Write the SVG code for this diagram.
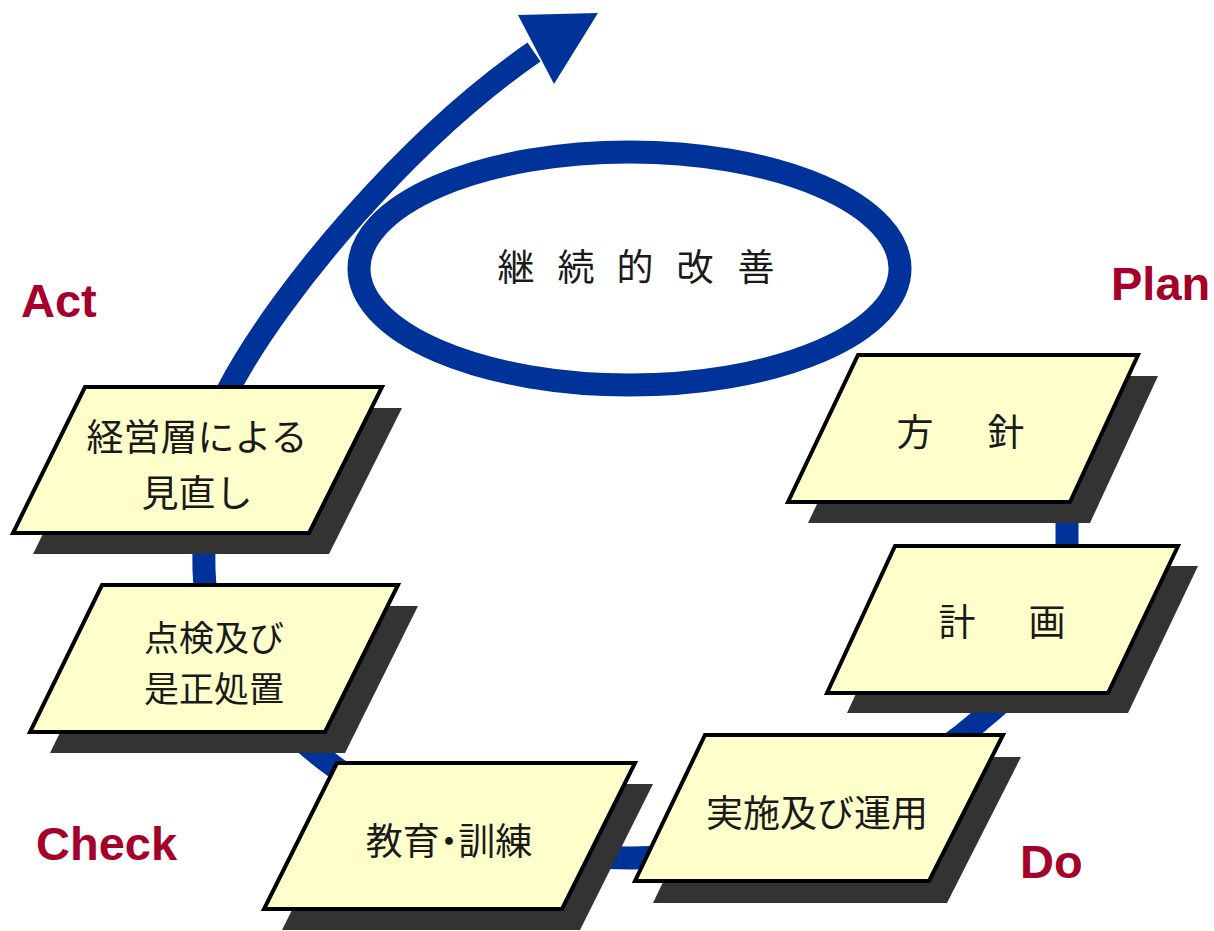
<svg xmlns="http://www.w3.org/2000/svg" width="1214" height="931" viewBox="0 0 1214 931">
<style>
.flow{fill:none;stroke:#003399;stroke-width:23;stroke-linecap:butt;stroke-linejoin:round}
.shadow{fill:#333333}
.box{fill:#FFFFCC;stroke:#000000;stroke-width:4;stroke-linejoin:miter}
.jp{font-family:"Noto Sans CJK JP","Noto Sans CJK SC",sans-serif;font-size:37px;fill:#1a1a1a;text-anchor:middle}
.palt{font-feature-settings:"palt"}
.pdca{font-family:"Liberation Sans",Arial,sans-serif;font-size:47px;font-weight:bold;fill:#A5002A}
</style>
<rect x="0" y="0" width="1214" height="931" fill="#ffffff"/>
<g id="connectors">
<path class="flow" d="M1067,470 L1067,600 C1067,650 1010,695 978,722 C900,790 750,858 632,858 C500,858 390,810 328,762 C260,710 205,640 204,570 C203,490 205,440 227,392 C280,290 411,137 534,52"/>
<polygon points="518,15 598,13 554,84" fill="#003399"/>
</g>
<g id="improvement">
<ellipse cx="629.5" cy="268.5" rx="270.5" ry="116.5" class="flow"/>
<text class="jp" y="281"><tspan x="516">継</tspan><tspan x="576">続</tspan><tspan x="635">的</tspan><tspan x="695">改</tspan><tspan x="756">善</tspan></text>
</g>
<g id="node-houshin">
<polygon class="shadow" points="878,376 1158,376 1090,523 808,523"/>
<polygon class="box" points="858,355 1138,355 1070,502 788,502"/>
<text class="jp" y="446"><tspan x="915">方</tspan><tspan x="1006">針</tspan></text>
</g>
<g id="node-keikaku">
<polygon class="shadow" points="915,566 1198,566 1128,713 847,713"/>
<polygon class="box" points="895,546 1178,546 1108,693 827,693"/>
<text class="jp" y="636"><tspan x="957">計</tspan><tspan x="1047">画</tspan></text>
</g>
<g id="node-jisshi">
<polygon class="shadow" points="723,757 1021,757 947,903 653,903"/>
<polygon class="box" points="705,735 1003,735 929,881 635,881"/>
<text class="jp" x="817" y="827">実施及び運用</text>
</g>
<g id="node-kyouiku">
<polygon class="shadow" points="355,784 653,784 580,930 282,930"/>
<polygon class="box" points="337,763 635,763 562,909 264,909"/>
<text class="jp palt" x="449" y="855">教育・訓練</text>
</g>
<g id="node-tenken">
<polygon class="shadow" points="122,606 418,606 345,753 50,753"/>
<polygon class="box" points="102,585 398,585 325,732 30,732"/>
<text class="jp" style="font-size:35px"><tspan x="214" y="651">点検及び</tspan><tspan x="214" y="702">是正処置</tspan></text>
</g>
<g id="node-minaoshi">
<polygon class="shadow" points="105,408 402,408 329,554 33,554"/>
<polygon class="box" points="85,387 382,387 309,533 13,533"/>
<text class="jp"><tspan x="197" y="451">経営層による</tspan><tspan x="197" y="507">見直し</tspan></text>
</g>
<g id="labels">
<text class="pdca" x="21" y="317">Act</text>
<text class="pdca" x="1111" y="300">Plan</text>
<text class="pdca" x="36" y="860">Check</text>
<text class="pdca" x="1020" y="878">Do</text>
</g>
</svg>
